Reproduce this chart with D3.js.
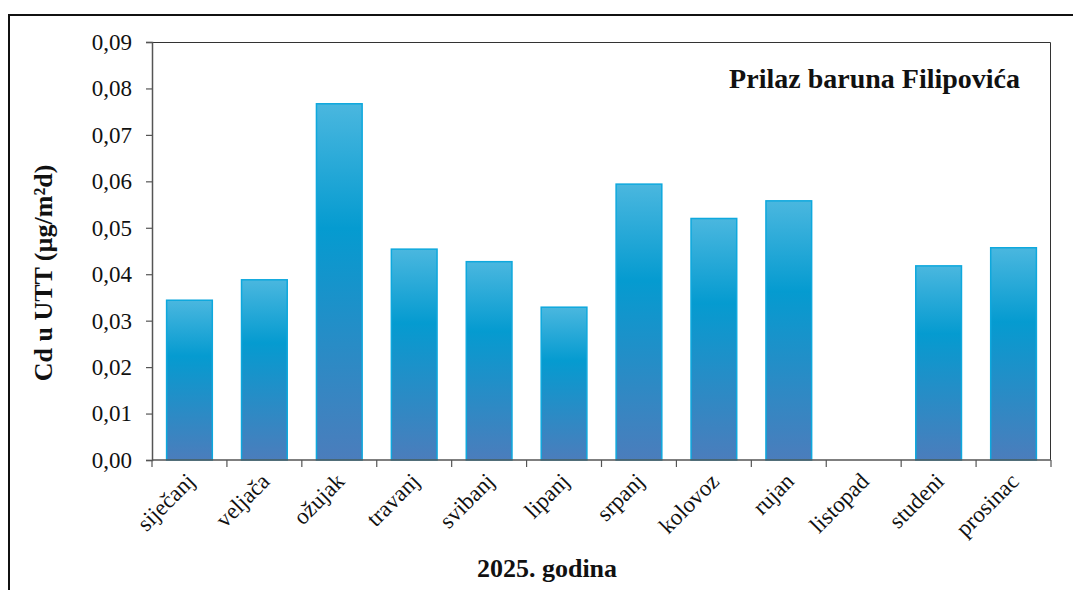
<!DOCTYPE html>
<html>
<head>
<meta charset="utf-8">
<script src="https://cdn.jsdelivr.net/npm/d3@7"></script>
<style>
  body { margin: 0; background: #fff; }
  svg { display: block; }
  svg text { font-family: "Liberation Serif", "Times New Roman", serif; }
</style>
</head>
<body>
<div class="bar-chart"></div>
<script>
const months = ["siječanj", "veljača", "ožujak", "travanj", "svibanj", "lipanj",
    "srpanj", "kolovoz", "rujan", "listopad", "studeni", "prosinac"];
const cd = [0.0344, 0.0388, 0.0767, 0.0454, 0.0427, 0.0329,
    0.0594, 0.0520, 0.0558, null, 0.0418, 0.0457];
const yTicks = [0, 0.01, 0.02, 0.03, 0.04, 0.05, 0.06, 0.07, 0.08, 0.09];

const W = 1073, H = 590;
const margin = {top: 42, right: 22, bottom: 130, left: 152};
const w = W - margin.left - margin.right;
const h = H - margin.top - margin.bottom;
const serif = "Liberation Serif, Times New Roman, serif";

const svg = d3.select(".bar-chart")
    .append("svg")
    .attr("width", W)
    .attr("height", H);

// gradient for the bars
const grad = svg.append("defs").append("linearGradient")
    .attr("id", "barGrad")
    .attr("x1", 0).attr("y1", 0).attr("x2", 0).attr("y2", 1);
grad.append("stop").attr("offset", "0%").attr("stop-color", "#4ab7df");
grad.append("stop").attr("offset", "35%").attr("stop-color", "#059bd0");
grad.append("stop").attr("offset", "100%").attr("stop-color", "#4b7dbc");

// outer frame
svg.append("path")
    .attr("d", `M9,${H + 5} V15 H${W + 5}`)
    .attr("fill", "none")
    .attr("stroke", "#111")
    .attr("stroke-width", 2);

const g = svg.append("g")
    .attr("transform", `translate(${margin.left},${margin.top})`);

const x = d3.scaleBand()
    .domain(months)
    .range([0, w])
    .paddingInner(0.39)
    .paddingOuter(0.195);

const y = d3.scaleLinear()
    .domain([0, 0.09])
    .range([h, 0]);

// plot area top/right border
g.append("path")
    .attr("d", `M0,0.5 H${w - 0.5} V${h}`)
    .attr("fill", "none")
    .attr("stroke", "#333")
    .attr("stroke-width", 1);

// bars
g.selectAll(".bar")
    .data(months.map((m, i) => ({month: m, value: cd[i]})).filter(d => d.value != null))
    .join("rect")
    .attr("class", "bar")
    .attr("x", d => x(d.month))
    .attr("y", d => y(d.value))
    .attr("width", x.bandwidth())
    .attr("height", d => h - y(d.value))
    .attr("fill", "url(#barGrad)")
    .attr("stroke", "#0ea8dd")
    .attr("stroke-width", 1.5);

// y axis
const yAxis = d3.axisLeft(y)
    .tickValues(yTicks)
    .tickSize(6)
    .tickPadding(14)
    .tickFormat(d => d3.format(".2f")(d).replace(".", ","));

g.append("g")
    .attr("class", "axis y-axis")
    .call(yAxis)
    .call(a => a.select(".domain").attr("stroke", "#555").attr("stroke-width", 1.5))
    .call(a => a.selectAll(".tick line").attr("stroke", "#555").attr("stroke-width", 1.2))
    .call(a => a.selectAll(".tick text")
        .attr("font-size", 23)
        .attr("font-family", serif)
        .attr("fill", "#111"));

// x axis: tick marks at band boundaries
const bounds = d3.range(months.length + 1).map(i => i * x.step());
g.append("g")
    .attr("class", "axis x-axis")
    .call(a => a.append("line")
        .attr("x1", 0).attr("x2", w)
        .attr("y1", h).attr("y2", h)
        .attr("stroke", "#555").attr("stroke-width", 1.5))
    .call(a => a.selectAll(".xtick")
        .data(bounds)
        .join("line")
        .attr("class", "xtick")
        .attr("x1", d => d).attr("x2", d => d)
        .attr("y1", h).attr("y2", h + 7)
        .attr("stroke", "#555").attr("stroke-width", 1.2));

// category labels
g.selectAll(".xlabel")
    .data(months)
    .join("text")
    .attr("class", "xlabel")
    .attr("transform", d => `translate(${x(d) + x.bandwidth() / 2 + 1},${h + 17}) rotate(-45)`)
    .attr("text-anchor", "end")
    .attr("dy", "0.35em")
    .attr("font-size", 23)
    .attr("fill", "#111")
    .text(d => d);

// axis titles
svg.append("text")
    .attr("transform", `translate(52,273) rotate(-90)`)
    .attr("text-anchor", "middle")
    .attr("font-size", 26)
    .attr("font-weight", "bold")
    .attr("fill", "#111")
    .text("Cd u UTT (µg/m²d)");

svg.append("text")
    .attr("x", 547)
    .attr("y", 577)
    .attr("text-anchor", "middle")
    .attr("font-size", 26)
    .attr("font-weight", "bold")
    .attr("fill", "#111")
    .text("2025. godina");

// station name
g.append("text")
    .attr("x", w - 31)
    .attr("y", 46)
    .attr("text-anchor", "end")
    .attr("font-size", 28)
    .attr("font-weight", "bold")
    .attr("fill", "#111")
    .text("Prilaz baruna Filipovića");
</script>
</body>
</html>
